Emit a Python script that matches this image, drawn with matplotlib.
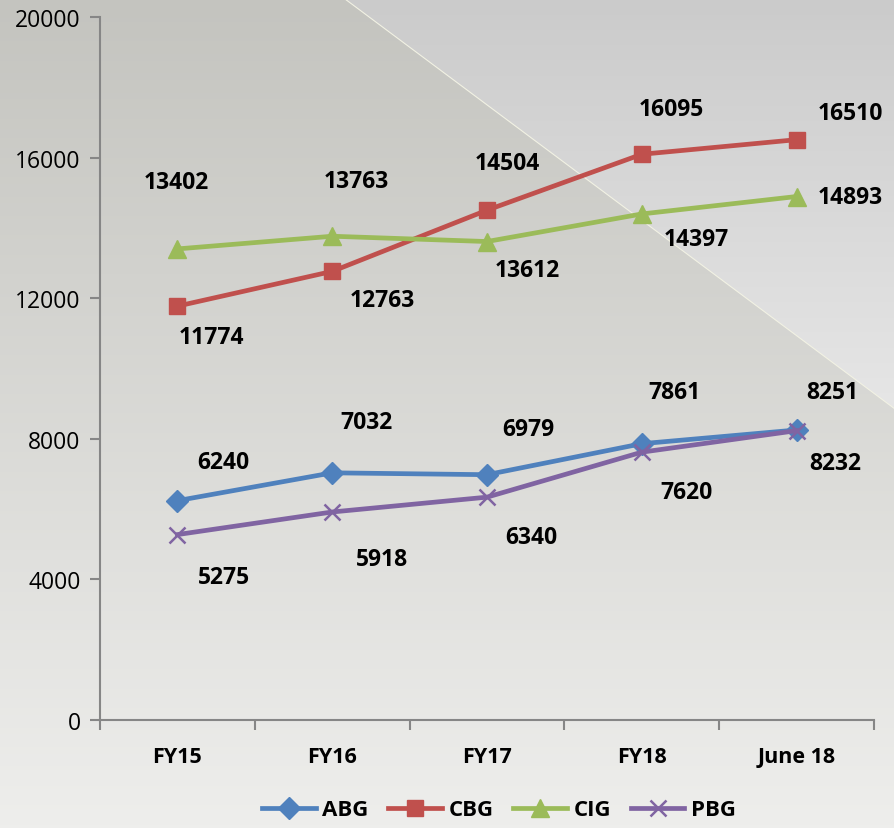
import numpy as np
import matplotlib
matplotlib.use('Agg')
import matplotlib.pyplot as plt
from matplotlib.patches import Polygon
from matplotlib.lines import Line2D

# data
categories = ["FY15", "FY16", "FY17", "FY18", "June 18"]
abg = [6240, 7032, 6979, 7861, 8251]
cbg = [11774, 12763, 14504, 16095, 16510]
cig = [13402, 13763, 13612, 14397, 14893]
pbg = [5275, 5918, 6340, 7620, 8232]

# label offsets in pixels (dx, dy), screen coords
abg_off = [(46, 39), (34, 51), (41, 46), (33, 52), (36, 38)]
cbg_off = [(34, -31), (50, -29), (20, 47), (30, 45), (54, 27)]
cig_off = [(-1, 67), (24, 55), (40, -28), (55, -25), (54, 0)]
pbg_off = [(47, -42), (50, -47), (44, -40), (45, -40), (39, -32)]

FONT = "Open Sans"
W, H = 895, 829
fig = plt.figure(figsize=(W / 100, H / 100), dpi=100)

# background: vertical gradient plus a lighter diagonal triangle top right
bg = fig.add_axes([0, 0, 1, 1], zorder=0)
bg.axis('off')
t = np.linspace(0, 1, 256).reshape(-1, 1)
c0 = np.array([0xc4, 0xc4, 0xbf]) / 255
c1 = np.array([0xee, 0xee, 0xec]) / 255
grad = (c0 + (c1 - c0) * t)[:, None, :]
bg.imshow(np.repeat(grad, 2, axis=1), extent=(0, W, H, 0), aspect='auto')
d0 = np.array([0xcb, 0xcb, 0xcb]) / 255
d1 = np.array([0xe6, 0xe6, 0xe6]) / 255
grad2 = (d0 + (d1 - d0) * t)[:, None, :]
tri = Polygon([(345, 0), (W, 0), (W, 410)], closed=True, facecolor='none',
              edgecolor='#f2f2e4', linewidth=0.8)
bg.add_patch(tri)
im = bg.imshow(np.repeat(grad2, 2, axis=1), extent=(345, W, 410, 0), aspect='auto')
im.set_clip_path(tri)
bg.set_xlim(0, W)
bg.set_ylim(H, 0)

ax = fig.add_axes([100 / W, 1 - 721 / H, 774 / W, 703 / H], zorder=1)
ax.patch.set_alpha(0)
x = np.arange(len(categories))

series = [
    ("ABG", abg, '#4F81BD', 'D', 11, abg_off),
    ("CBG", cbg, '#C0504D', 's', 12, cbg_off),
    ("CIG", cig, '#9BBB59', '^', 13, cig_off),
    ("PBG", pbg, '#8064A2', 'x', 12, pbg_off),
]
handles = []
for name, vals, col, mk, ms, offs in series:
    kw = dict(color=col, linewidth=3.4, marker=mk, markersize=ms)
    if mk == 'x':
        kw['markeredgewidth'] = 1.8
    else:
        kw['markeredgecolor'] = col
    ax.plot(x, vals, **kw)
    for xi, v, (dx, dy) in zip(x, vals, offs):
        ax.annotate(str(v), (xi, v), xytext=(dx, dy), textcoords='offset pixels',
                    ha='center', va='center', fontsize=16.5, fontweight='bold',
                    family=FONT, color='black')
    handles.append(Line2D([0], [0], **kw, label=name))

ax.set_xlim(-0.5, 4.5)
ax.set_ylim(0, 20000)
ax.set_yticks(range(0, 20001, 4000))
ax.set_yticklabels([str(v) for v in range(0, 20001, 4000)], fontsize=16.5, family=FONT)
ax.set_xticks(x)
ax.set_xticklabels(categories, fontsize=15.5, fontweight='bold', family=FONT)
ax.set_xticks(np.arange(-0.5, 5, 1), minor=True)
ax.tick_params(axis='x', which='major', length=0, pad=19)
ax.tick_params(axis='x', which='minor', length=7, width=1.5, color='#868686', direction='out')
ax.tick_params(axis='y', length=7, width=1.5, color='#868686', direction='out', pad=7)
for s in ['top', 'right']:
    ax.spines[s].set_visible(False)
for s in ['left', 'bottom']:
    ax.spines[s].set_color('#868686')
    ax.spines[s].set_linewidth(1.5)

leg = fig.legend(handles=handles, loc='center', bbox_to_anchor=(499 / W, 1 - 811 / H),
                 ncol=4, frameon=False, handlelength=2.4, columnspacing=0.9,
                 handletextpad=0.3, prop={'family': FONT, 'weight': 'bold', 'size': 16})

fig.savefig("out.png", dpi=100)
